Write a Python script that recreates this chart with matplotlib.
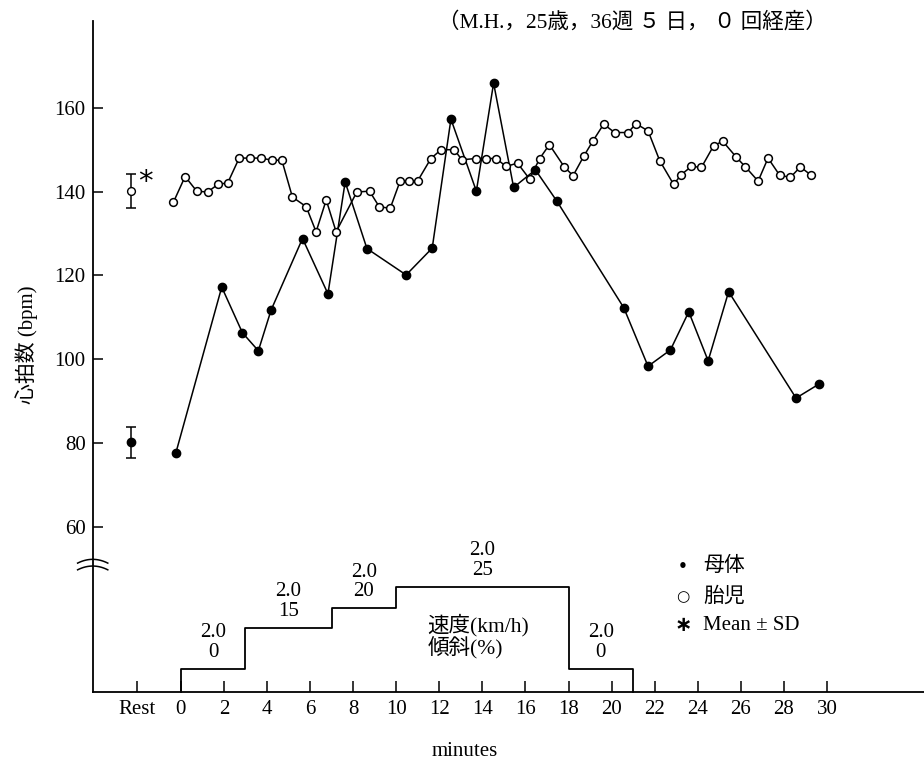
import matplotlib.pyplot as plt
import numpy as np

# ---- data ----
# maternal heart rate (filled dots)
mat_t = [-0.23, 1.90, 2.86, 3.60, 4.19, 5.65, 6.83, 7.63, 8.64, 10.46, 11.67, 12.54,
         13.72, 14.52, 15.45, 16.46, 17.46, 20.56, 21.69, 22.73, 23.58, 24.48, 25.43,
         28.56, 29.61]
mat_hr = [77.6, 117.2, 106.3, 102.0, 111.7, 128.8, 115.6, 142.3, 126.4, 120.1, 126.5, 157.3,
          140.1, 165.9, 141.0, 145.2, 137.7, 112.3, 98.3, 102.2, 111.3, 99.6, 116.1,
          90.7, 94.0]

# fetal heart rate (open circles)
fet_t = [-0.34, 0.20, 0.74, 1.24, 1.72, 2.18, 2.71, 3.22, 3.72, 4.23, 4.69, 5.18, 5.82,
         6.28, 6.75, 7.21, 8.17, 8.76, 9.21, 9.72, 10.18, 10.57, 10.99, 11.61, 12.08,
         12.69, 13.05, 13.70, 14.18, 14.64, 15.10, 15.63, 16.19, 16.66, 17.11, 17.80,
         18.21, 18.70, 19.12, 19.63, 20.14, 20.76, 21.13, 21.69, 22.23, 22.88, 23.22,
         23.70, 24.17, 24.74, 25.16, 25.79, 26.21, 26.80, 27.26, 27.80, 28.30, 28.76, 29.26]
fet_hr = [137.5, 143.6, 140.1, 139.9, 141.7, 142.1, 148.0, 148.0, 148.0, 147.5, 147.5, 138.7,
          136.4, 130.4, 138.0, 130.4, 139.9, 140.1, 136.4, 136.0, 142.5, 142.5, 142.5,
          147.9, 150.0, 150.0, 147.6, 147.9, 147.9, 147.9, 146.0, 146.8, 143.0, 147.9,
          151.2, 145.9, 143.8, 148.4, 152.0, 156.1, 154.1, 154.1, 156.2, 154.5, 147.4,
          141.7, 144.0, 146.0, 145.8, 151.0, 152.0, 148.2, 145.9, 142.5, 148.0, 143.9,
          143.4, 145.9, 143.9]

# resting values, mean and SD
rest_mean = {'mat': 80.2, 'fet': 140.2}
rest_sd = {'mat': 3.7, 'fet': 4.0}

# treadmill protocol
stage_start = [0, 3, 7, 10, 18]
stage_end = [3, 7, 10, 18, 21]
speed = [2.0, 2.0, 2.0, 2.0, 2.0]
grade = [0, 15, 20, 25, 0]
stage_height = [5.4, 15.3, 19.9, 25.1, 5.4]   # drawn step heights above the axis

minute_ticks = list(range(0, 31, 2))
y_ticks = [60, 80, 100, 120, 140, 160]

serif = ['Liberation Serif', 'Noto Sans CJK JP']

plt.rcParams['font.family'] = serif

fig = plt.figure(figsize=(9.24, 7.65), dpi=100)
ax = fig.add_axes([92.7 / 924, 1 - 691.7 / 765, 1 - 92.7 / 924, (691.7 - 20.7) / 765])
ymin, ymax = 20.6, 180.8
ax.set_xlim(-4.09, 34.5)
ax.set_ylim(ymin, ymax)

REST_TICK = -2.05
REST_X = -2.3

# heart rate curves
ax.plot(mat_t, mat_hr, color='black', lw=1.1, marker='o', ms=6, mfc='black', mec='black', zorder=3)
ax.plot(fet_t, fet_hr, color='black', lw=1.1, marker='o', ms=5.6, mfc='white', mec='black',
        mew=1.1, zorder=4)

# resting mean +- SD
ax.errorbar([REST_X], [rest_mean['mat']], yerr=[rest_sd['mat']], fmt='o', color='black',
            ms=6, mfc='black', capsize=3.6, elinewidth=1.1, capthick=1.1)
ax.errorbar([REST_X], [rest_mean['fet']], yerr=[rest_sd['fet']], fmt='o', color='black',
            ms=5.6, mfc='white', capsize=3.6, elinewidth=1.1, capthick=1.1, zorder=4)
ax.annotate('*', (REST_X, rest_mean['fet']), xytext=(10, 6), textcoords='offset points',
            fontsize=21, family='DejaVu Sans', ha='center', va='center')

# protocol steps
sx, sy = [stage_start[0]], [ymin]
for s, e, h in zip(stage_start, stage_end, stage_height):
    sx += [s, e]
    sy += [ymin + h, ymin + h]
sx.append(stage_end[-1])
sy.append(ymin)
ax.plot(sx, sy, color='black', lw=1.3, clip_on=False)

for s, e, h, sp, g in zip(stage_start, stage_end, stage_height, speed, grade):
    ax.annotate(f'{sp:.1f}\n{g}', ((s + e) / 2, ymin + h), xytext=(0, 5),
                textcoords='offset points', ha='center', va='bottom', fontsize=15,
                linespacing=1.05)

ax.text(11.44, ymin + 13.1, '速度(km/h)\n傾斜(%)', family=serif, fontsize=15.5,
        ha='left', va='center', linespacing=1.0)

# axis break marks on the y axis
t = np.linspace(-1, 1, 30)
for yb in (52.2, 50.6):
    ax.plot(-4.09 + 0.7 * t, yb + 0.9 * (1 - t ** 2) - 0.9, color='black', lw=1.1, clip_on=False)

# axes styling
for side in ('top', 'right'):
    ax.spines[side].set_visible(False)
ax.spines['left'].set_linewidth(1.3)
ax.spines['bottom'].set_linewidth(1.3)

ax.set_yticks(y_ticks)
ax.set_yticklabels([str(v) for v in y_ticks])
ax.tick_params(axis='y', direction='in', length=7, width=1.1, labelsize=15, pad=5)
ax.set_xticks([REST_TICK] + minute_ticks)
ax.set_xticklabels(['Rest'] + [str(m) for m in minute_ticks])
ax.tick_params(axis='x', direction='in', length=8, width=1.1, labelsize=15, pad=6)

ax.set_ylabel('心拍数 (bpm)', family=serif, fontsize=15)
ax.yaxis.set_label_coords(-0.066, 0.517)
ax.set_xlabel('minutes', fontsize=15)
ax.xaxis.set_label_coords((465 - 92.7) / (924 - 92.7), -(742 - 691.7) / 671)

# title / subject info
fig.text(827 / 924, 1 - 21.7 / 765, '（M.H.，25歳，36週 ５ 日， ０ 回経産）', family=serif,
         fontsize=15.5, ha='right', va='center')

# legend
leg_y = [566.7, 596.7, 625.0]
leg_sym = ['•', '○', '∗']
leg_lab = ['母体', '胎児', 'Mean ± SD']
leg_size = [11, 11, 15]
for y, s, l, fs in zip(leg_y, leg_sym, leg_lab, leg_size):
    fig.text(683 / 924, 1 - y / 765, s, family='DejaVu Sans', fontsize=fs, ha='center',
             va='center', fontweight='bold')
    fig.text(703 / 924, 1 - y / 765, l, family=serif, fontsize=15, ha='left', va='center')

fig.savefig('out.png', dpi=100, facecolor='white')
